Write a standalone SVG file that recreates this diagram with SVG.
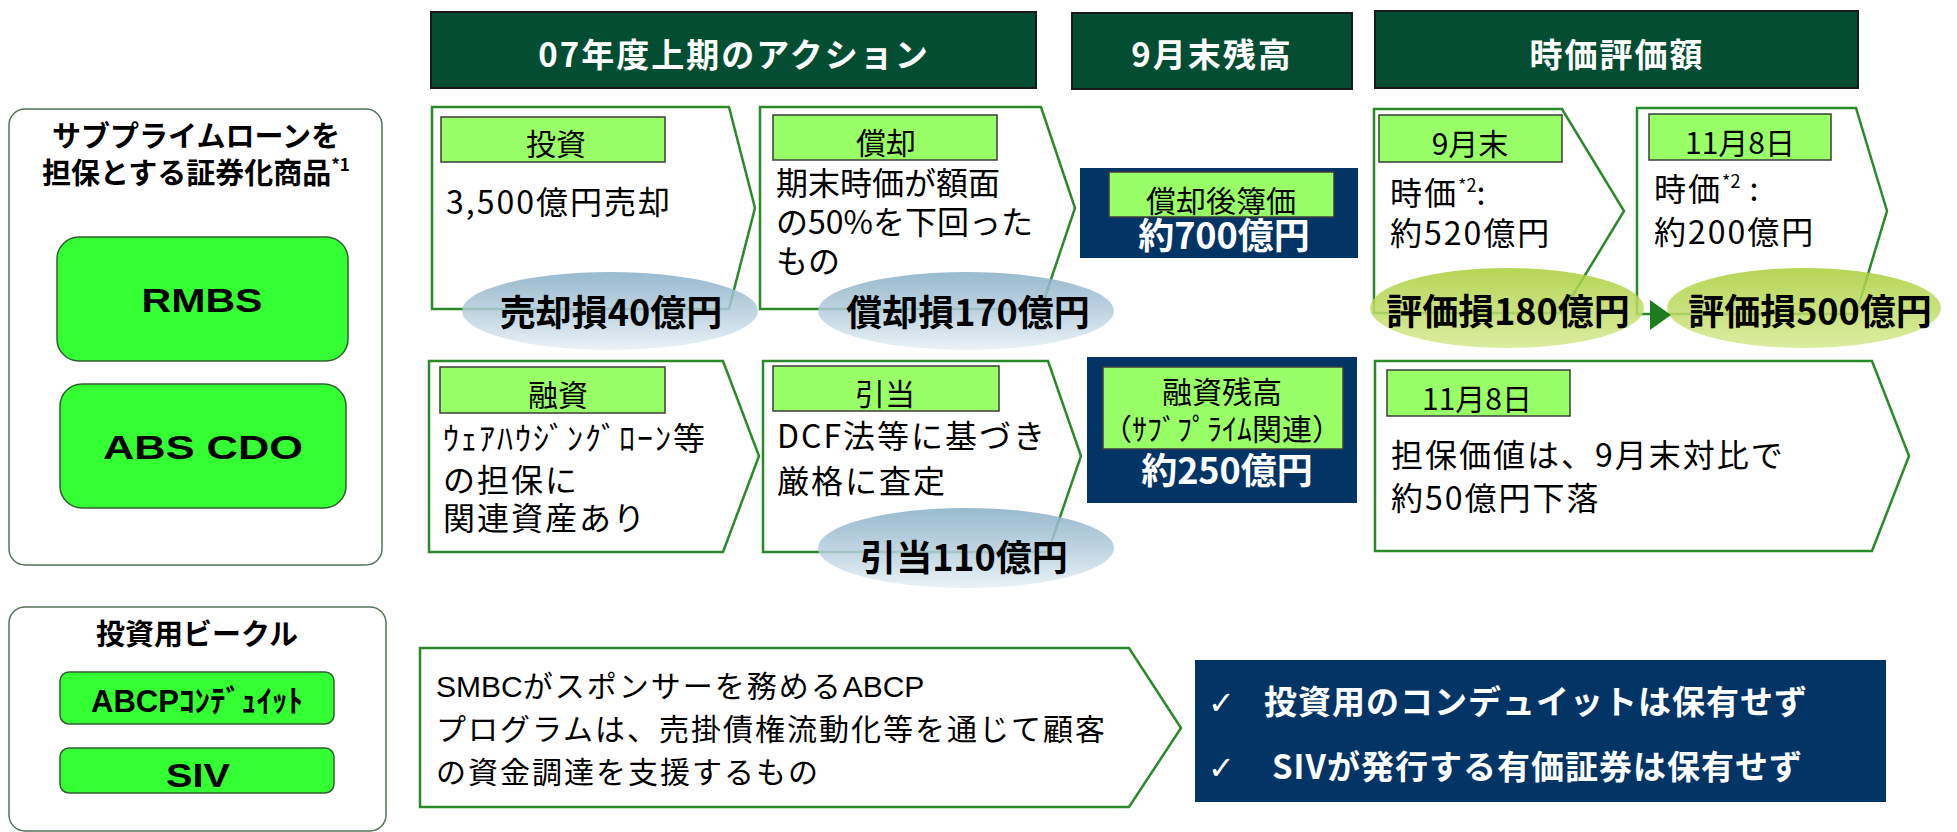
<svg xmlns="http://www.w3.org/2000/svg" width="1957" height="832" viewBox="0 0 1957 832">
<defs>
<linearGradient id="gb" x1="0" y1="0" x2="0" y2="1">
<stop offset="0" stop-color="#86AEC7"/><stop offset="0.5" stop-color="#B3CCDB"/><stop offset="1" stop-color="#E6F0F5"/>
</linearGradient>
<linearGradient id="gg" x1="0" y1="0" x2="0" y2="1">
<stop offset="0" stop-color="#A8CE38"/><stop offset="1" stop-color="#D6E991"/>
</linearGradient>
<style>
text{font-family:"Noto Sans CJK JP","Noto Sans",sans-serif;fill:#000}
.hdr{fill:#034D33;stroke:#1a1a1a;stroke-width:2}
.hdrt{fill:#fff;font-size:33px;font-weight:bold;letter-spacing:2px;text-anchor:middle}
.chev{fill:#fff;stroke:#2A8A2A;stroke-width:2.5}
.lbl{fill:#99FF66;stroke:#3c3c3c;stroke-width:1.5}
.lblt{font-size:30px;text-anchor:middle}
.body{font-size:32px;letter-spacing:2px}
.tight{letter-spacing:0}
.navy{fill:#033466}
.wt{fill:#fff;font-size:36px;font-weight:bold;text-anchor:middle}
.ellb{fill:url(#gb);opacity:.85}
.ellg{fill:url(#gg);opacity:.85}
.ellt{font-size:36px;font-weight:bold;text-anchor:middle}
.outer{fill:#fff;stroke:#56735A;stroke-width:1.5}
.gbox{fill:#33FF33;stroke:#2F5F2F;stroke-width:1.5}
.lat{font-family:"Liberation Sans",Arial,sans-serif;font-weight:bold;text-anchor:middle}
.ttl{font-size:29px;font-weight:bold;text-anchor:middle}
.chk{fill:#fff;font-family:"DejaVu Sans",sans-serif;font-size:32px}
.nb{fill:#fff;font-size:33px;font-weight:bold;letter-spacing:1px}
.smbc{font-size:30px;letter-spacing:2px}
.ls{font-family:"Liberation Sans",Arial,sans-serif;letter-spacing:0}
</style>
</defs>
<rect width="1957" height="832" fill="#fff"/>

<g id="header-action"><rect class="hdr" x="431" y="12" width="605" height="76"/><text class="hdrt" x="734" y="67">07年度上期のアクション</text></g>
<g id="header-balance"><rect class="hdr" x="1072" y="13" width="280" height="76"/><text class="hdrt" x="1212" y="67">9月末残高</text></g>
<g id="header-fairvalue"><rect class="hdr" x="1375" y="11" width="483" height="77"/><text class="hdrt" x="1617" y="67">時価評価額</text></g>

<g id="subprime-products">
<rect class="outer" x="9" y="109" width="373" height="456" rx="16"/>
<text class="ttl" x="196" y="147">サブプライムローンを</text>
<text class="ttl" x="196" y="184">担保とする証券化商品<tspan font-size="17" dy="-13">*1</tspan></text>
</g>
<g id="rmbs"><rect class="gbox" x="57" y="237" width="291" height="124" rx="22"/><text class="lat" x="202" y="312" font-size="34" textLength="121" lengthAdjust="spacingAndGlyphs">RMBS</text></g>
<g id="abs-cdo"><rect class="gbox" x="60" y="384" width="286" height="124" rx="22"/><text class="lat" x="203" y="459" font-size="34" textLength="200" lengthAdjust="spacingAndGlyphs">ABS CDO</text></g>

<g id="vehicles">
<rect class="outer" x="9" y="607" width="377" height="224" rx="16"/>
<text class="ttl" x="197" y="645" font-size="30">投資用ビークル</text>
</g>
<g id="abcp-conduit"><rect class="gbox" x="60" y="672" width="274" height="52" rx="9"/><text class="lat" x="197" y="712" font-size="31">ABCP<tspan font-family="Noto Sans CJK JP,sans-serif">ｺﾝﾃﾞｭｲｯﾄ</tspan></text></g>
<g id="siv"><rect class="gbox" x="60" y="748" width="274" height="45" rx="9"/><text class="lat" x="198" y="787" font-size="34" textLength="64" lengthAdjust="spacingAndGlyphs">SIV</text></g>

<g id="invest">
<path class="chev" d="M432,107 H729 L755,208 L729,309 H432 Z"/>
<rect class="lbl" x="441" y="117" width="224" height="45"/>
<text class="lblt" x="556" y="155">投資</text>
<text class="body" x="446" y="214">3,500億円売却</text>
</g>
<g id="writeoff">
<path class="chev" d="M760,107 H1041 L1075,208 L1041,309 H760 Z"/>
<rect class="lbl" x="773" y="115" width="224" height="45"/>
<text class="lblt" x="886" y="154">償却</text>
<text class="body tight" x="776" y="195">期末時価が額面</text>
<text class="body tight" x="776" y="234">の50%を下回った</text>
<text class="body tight" x="776" y="273">もの</text>
</g>
<g id="sale-loss"><ellipse class="ellb" cx="610" cy="311" rx="148" ry="39"/><text class="ellt" x="611" y="326">売却損40億円</text></g>
<g id="writeoff-loss"><ellipse class="ellb" cx="966" cy="311" rx="148" ry="39"/><text class="ellt" x="968" y="326">償却損170億円</text></g>

<g id="book-value">
<rect class="navy" x="1080" y="168" width="278" height="90"/>
<rect class="lbl" x="1109" y="172" width="225" height="45"/>
<text class="lblt" x="1221" y="212">償却後簿価</text>
<text class="wt" x="1224" y="249">約700億円</text>
</g>

<g id="fv-sept">
<path class="chev" d="M1374,109 H1562 L1624,211 L1562,313 H1374 Z"/>
<rect class="lbl" x="1379" y="115" width="183" height="47"/>
<text class="lblt" x="1470" y="155">9月末</text>
<text class="body" x="1390" y="205">時価<tspan font-size="18" dy="-13" letter-spacing="0">*2</tspan><tspan dy="13">:</tspan></text>
<text class="body" x="1390" y="245">約520億円</text>
</g>
<g id="fv-nov">
<path class="chev" d="M1637,108 H1856 L1887,211 L1856,314 H1637 Z"/>
<rect class="lbl" x="1649" y="114" width="182" height="46"/>
<text class="lblt" x="1740" y="154">11月8日</text>
<text class="body" x="1654" y="201">時価<tspan font-size="18" dy="-13" letter-spacing="0">*2</tspan><tspan dy="13"> :</tspan></text>
<text class="body" x="1654" y="244">約200億円</text>
</g>
<g id="valuation-loss-sept"><ellipse class="ellg" cx="1507" cy="308" rx="137" ry="40"/><text class="ellt" x="1508" y="325">評価損180億円</text></g>
<g id="valuation-loss-nov"><ellipse class="ellg" cx="1804" cy="308" rx="137" ry="40"/><text class="ellt" x="1810" y="325">評価損500億円</text></g>

<g id="loan">
<path class="chev" d="M429,361 H723 L759,456 L723,552 H429 Z"/>
<rect class="lbl" x="440" y="367" width="225" height="46"/>
<text class="lblt" x="558" y="406">融資</text>
<text class="body" x="443" y="450">ｳｪｱﾊｳｼﾞﾝｸﾞﾛｰﾝ等</text>
<text class="body" x="443" y="492">の担保に</text>
<text class="body" x="443" y="530">関連資産あり</text>
</g>
<g id="provision">
<path class="chev" d="M763,361 H1048 L1081,456 L1048,552 H763 Z"/>
<rect class="lbl" x="773" y="366" width="226" height="45"/>
<text class="lblt" x="885" y="405">引当</text>
<text class="body" x="777" y="448">DCF法等に基づき</text>
<text class="body" x="777" y="493">厳格に査定</text>
</g>
<g id="provision-amount"><ellipse class="ellb" cx="966" cy="548" rx="148" ry="40"/><text class="ellt" x="964" y="571">引当110億円</text></g>

<g id="loan-balance">
<rect class="navy" x="1087" y="357" width="270" height="146"/>
<rect class="lbl" x="1103" y="367" width="240" height="82"/>
<text class="lblt" x="1222" y="403">融資残高</text>
<text class="lblt" x="1222" y="440" font-size="30">（ｻﾌﾞﾌﾟﾗｲﾑ関連）</text>
<text class="wt" x="1227" y="484">約250億円</text>
</g>

<g id="collateral-nov">
<path class="chev" d="M1375,361 H1872 L1909,456 L1872,551 H1375 Z"/>
<rect class="lbl" x="1387" y="370" width="183" height="46"/>
<text class="lblt" x="1477" y="410">11月8日</text>
<text class="body" x="1391" y="467">担保価値は、9月末対比で</text>
<text class="body" x="1391" y="510">約50億円下落</text>
</g>

<g id="abcp-program">
<path class="chev" d="M420,648 H1129 L1181,728 L1129,807 H420 Z"/>
<text class="smbc" x="436" y="697"><tspan class="ls">SMBC</tspan>がスポンサーを務める<tspan class="ls">ABCP</tspan></text>
<text class="smbc" x="436" y="740">プログラムは、売掛債権流動化等を通じて顧客</text>
<text class="smbc" x="436" y="783">の資金調達を支援するもの</text>
</g>

<g id="no-holdings">
<rect class="navy" x="1195" y="660" width="691" height="142"/>
<text class="chk" x="1208" y="714">✓</text>
<text class="nb" x="1264" y="714">投資用のコンデュイットは保有せず</text>
<text class="chk" x="1208" y="779">✓</text>
<text class="nb" x="1272" y="779">SIVが発行する有価証券は保有せず</text>
</g>

<g id="connectors">
<path d="M1650,300 L1671,315 L1650,330 Z" fill="#1E7E1E"/>
</g>
</svg>
